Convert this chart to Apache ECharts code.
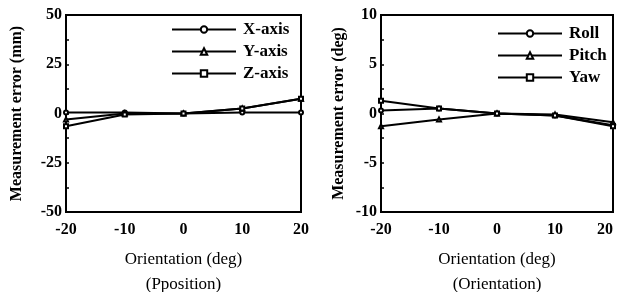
<!DOCTYPE html>
<html>
<head>
<meta charset="utf-8">
<script src="https://cdn.jsdelivr.net/npm/echarts@6/dist/echarts.min.js"></script>
<style>
  html, body { margin: 0; padding: 0; background: #fff; }
  #chart { width: 619px; height: 292px; }
</style>
</head>
<body>
<div id="chart"></div>
<script>
// x values (orientation, deg)
var orient = [-20, -10, 0, 10, 20];

// position errors (mm)
var posNames = ['X-axis', 'Y-axis', 'Z-axis'];
var posX = [0.5, 0.5, 0, 0.5, 0.5];
var posY = [-3, 0, 0, 2.5, 7.5];
var posZ = [-6.5, -0.5, 0, 2.5, 7.5];

// orientation errors (deg)
var oriNames = ['Roll', 'Pitch', 'Yaw'];
var roll = [0.3, 0.5, 0, -0.2, -1.2];
var pitch = [-1.3, -0.6, 0, -0.1, -0.9];
var yaw = [1.3, 0.5, 0, -0.2, -1.3];

var symbols = ['emptyCircle', 'emptyTriangle', 'emptyRect'];

var font = 'Liberation Serif';

function pairs(ys) {
    return orient.map(function (x, i) { return [x, ys[i]]; });
}

function mkSeries(name, ys, idx, k) {
    return {
        name: name,
        type: 'line',
        xAxisIndex: idx,
        yAxisIndex: idx,
        data: pairs(ys),
        symbol: symbols[k],
        symbolSize: 4,
        lineStyle: { color: '#000', width: 2 },
        itemStyle: { color: '#000', borderColor: '#000', borderWidth: 2 }
    };
}

function xAx(idx, sub) {
    return {
        type: 'value',
        gridIndex: idx,
        min: -20, max: 20, interval: 10,
        name: 'Orientation (deg)\n' + sub,
        nameLocation: 'middle',
        nameGap: 35,
        nameTextStyle: { fontFamily: font, fontSize: 17, color: '#000', lineHeight: 25 },
        axisLine: { show: true, onZero: false, lineStyle: { color: '#000', width: 2 } },
        axisTick: { show: false },
        minorTick: { show: false },
        axisLabel: { fontFamily: font, fontSize: 16, fontWeight: 'bold', color: '#000', margin: 10, alignMaxLabel: idx === 1 ? 'right' : null },
        splitLine: { show: false }
    };
}

function yAx(idx, min, max, step, name, gap) {
    return {
        type: 'value',
        gridIndex: idx,
        min: min, max: max, interval: step,
        name: name,
        nameLocation: 'middle',
        nameGap: gap,
        nameTextStyle: { fontFamily: font, fontSize: 16, fontWeight: 'bold', color: '#000' },
        axisLine: { show: true, onZero: false, lineStyle: { color: '#000', width: 2 } },
        axisTick: { show: true, inside: true, length: 3, lineStyle: { color: '#000', width: 1.5 } },
        minorTick: { show: true, splitNumber: 2, length: 3, lineStyle: { color: '#000', width: 1.5 } },
        axisLabel: { fontFamily: font, fontSize: 16, fontWeight: 'bold', color: '#000', margin: 4 },
        splitLine: { show: false }
    };
}

function legend(names, left, top) {
    return {
        data: names,
        orient: 'vertical',
        left: left,
        top: top,
        itemWidth: 64,
        itemHeight: 8,
        itemGap: 5,
        textStyle: { fontFamily: font, fontSize: 17, fontWeight: 'bold', color: '#000', padding: [0, 0, 0, 2] }
    };
}

var chart = echarts.init(document.getElementById('chart'));
var option = {
    animation: false,
    grid: [
        { left: 66, top: 15, width: 235, height: 197, show: true, borderColor: '#000', borderWidth: 2, outerBoundsMode: 'none', containLabel: false },
        { left: 381, top: 15, width: 232, height: 197, show: true, borderColor: '#000', borderWidth: 2, outerBoundsMode: 'none', containLabel: false }
    ],
    legend: [
        legend(posNames, 166, 16),
        legend(oriNames, 492, 20)
    ],
    xAxis: [xAx(0, '(Pposition)'), xAx(1, '(Orientation)')],
    yAxis: [
        yAx(0, -50, 50, 25, 'Measurement error (mm)', 41),
        yAx(1, -10, 10, 5, 'Measurement error (deg)', 34)
    ],
    series: [
        mkSeries(posNames[0], posX, 0, 0),
        mkSeries(posNames[1], posY, 0, 1),
        mkSeries(posNames[2], posZ, 0, 2),
        mkSeries(oriNames[0], roll, 1, 0),
        mkSeries(oriNames[1], pitch, 1, 1),
        mkSeries(oriNames[2], yaw, 1, 2)
    ]
};
chart.setOption(option, true);
</script>
</body>
</html>
